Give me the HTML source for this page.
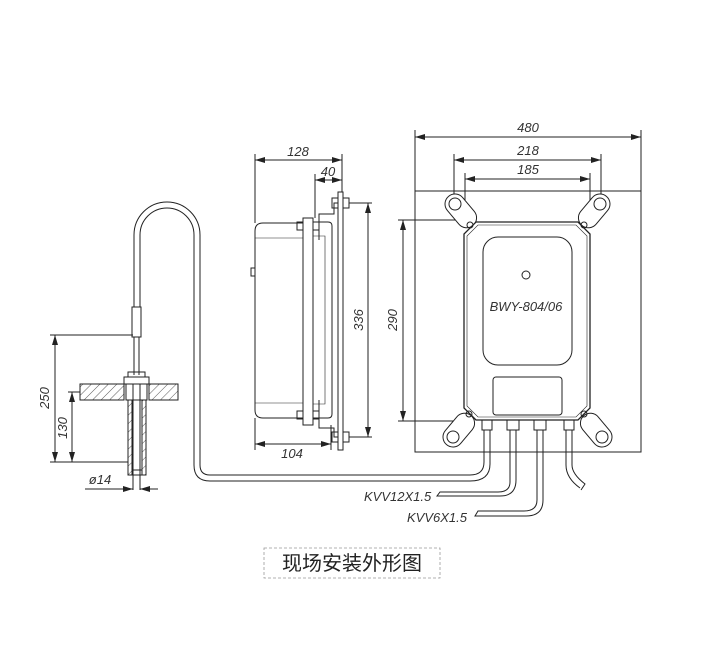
<!DOCTYPE html>
<html><head><meta charset="utf-8"><style>
html,body{margin:0;padding:0;background:#fff;width:708px;height:657px;overflow:hidden}
svg{display:block}
text{font-family:"Liberation Sans",sans-serif;font-style:italic;fill:#333;font-size:13px}
</style></head><body>
<svg width="708" height="657" viewBox="0 0 708 657" xmlns="http://www.w3.org/2000/svg">
<defs>
<marker id="a" viewBox="0 0 10 6" refX="10" refY="3" markerWidth="10" markerHeight="6" orient="auto-start-reverse" markerUnits="userSpaceOnUse"><path d="M0,0 L10,3 L0,6z" fill="#222"/></marker>
<pattern id="h" width="6" height="6" patternUnits="userSpaceOnUse" patternTransform="rotate(45)"><line x1="0" y1="0" x2="0" y2="6" stroke="#333" stroke-width="0.8"/></pattern>
</defs>
<g fill="none" stroke="#222" stroke-width="1">
<!-- right view -->
<rect x="415" y="191" width="226" height="261"/>
<line x1="415" y1="130" x2="415" y2="191"/><line x1="641" y1="130" x2="641" y2="191"/>
<line x1="415" y1="137" x2="641" y2="137" marker-start="url(#a)" marker-end="url(#a)"/>
<line x1="454" y1="154" x2="454" y2="204"/><line x1="601" y1="154" x2="601" y2="204"/>
<line x1="454" y1="160" x2="601" y2="160" marker-start="url(#a)" marker-end="url(#a)"/>
<line x1="465" y1="173" x2="465" y2="222"/><line x1="590" y1="173" x2="590" y2="222"/>
<line x1="465" y1="179" x2="590" y2="179" marker-start="url(#a)" marker-end="url(#a)"/>
<line x1="398" y1="220" x2="464" y2="220"/><line x1="398" y1="421" x2="464" y2="421"/>
<line x1="403" y1="220" x2="403" y2="421" marker-start="url(#a)" marker-end="url(#a)"/>
<!-- ears -->
<g fill="#fff">
<rect transform="translate(455,204) rotate(50)" x="-10" y="-10" width="38" height="20" rx="10"/>
<rect transform="translate(600,204) rotate(130)" x="-10" y="-10" width="38" height="20" rx="10"/>
<rect transform="translate(453,437) rotate(-50)" x="-10" y="-10" width="38" height="20" rx="10"/>
<rect transform="translate(602,437) rotate(-130)" x="-10" y="-10" width="38" height="20" rx="10"/>
</g>
<circle cx="455" cy="204" r="6"/><circle cx="600" cy="204" r="6"/><circle cx="453" cy="437" r="6"/><circle cx="602" cy="437" r="6"/>
<path d="M476,222 L578,222 L590,234 L590,408 L578,420 L476,420 L464,408 L464,234z" fill="#fff" stroke-width="1.3"/>
<path d="M478,225 L576,225 L587,236 L587,406 L576,417 L478,417 L467,406 L467,236z" stroke-width="0.6"/>
<circle cx="470" cy="225" r="3"/><circle cx="584" cy="225" r="3"/><circle cx="469" cy="414" r="3"/><circle cx="584" cy="414" r="3"/>
<rect x="483" y="237" width="89" height="128" rx="15"/>
<circle cx="526" cy="275" r="4"/>
<rect x="493" y="377" width="69" height="38" rx="3"/>
<!-- glands -->
<rect x="482" y="420" width="10" height="10"/><rect x="507" y="420" width="12" height="10"/><rect x="534" y="420" width="12" height="10"/><rect x="564" y="420" width="10" height="10"/>
<!-- cables -->
<path d="M484,430 L484,462 Q484,475 470,475 L210,475 Q200,475 200,465 L200,235 A33,33 0 0 0 134,235 L134,307"/>
<path d="M490,430 L490,464 Q490,481 470,481 L210,481 Q194,481 194,465 L194,235 A27,27 0 0 0 140,235 L140,307"/>
<path d="M510,430 L510,482 Q510,492 498,492 L440,492 L437,496 L500,496 Q516,496 516,480 L516,430"/>
<path d="M537,430 L537,500 Q537,511 524,511 L478,511 L475,516 L526,516 Q543,516 543,500 L543,430"/>
<path d="M566,430 L566,465 Q566,478 580,488 M572,430 L572,465 Q572,474 585,484 L581,490"/>
<!-- side view -->
<path d="M303,223 L263,223 Q255,223 255,231 L255,410 Q255,418 263,418 L303,418z"/>
<line x1="255" y1="238" x2="303" y2="238" stroke-width="0.6"/><line x1="255" y1="403" x2="303" y2="403" stroke-width="0.6"/>
<rect x="251" y="268" width="4" height="8"/>
<rect x="303" y="218" width="10" height="207"/>
<path d="M313,222 L328,222 Q332,222 332,226 L332,414 Q332,418 328,418 L313,418"/>
<path d="M313,236 L325,236 L325,404 L313,404" stroke-width="0.6"/>
<rect x="338" y="192" width="5" height="258"/>
<path d="M319,240 L319,214 L334,214 L334,203 L338,203"/>
<path d="M319,400 L319,428 L334,428 L334,437 L338,437"/>
<rect x="332" y="198" width="6" height="10"/><rect x="343" y="198" width="6" height="10"/>
<rect x="332" y="432" width="6" height="10"/><rect x="343" y="432" width="6" height="10"/>
<rect x="297" y="222" width="6" height="8"/><rect x="313" y="222" width="6" height="8"/>
<rect x="297" y="411" width="6" height="8"/><rect x="313" y="411" width="6" height="8"/>
<line x1="255" y1="154" x2="255" y2="223"/><line x1="342" y1="154" x2="342" y2="192"/>
<line x1="255" y1="160" x2="342" y2="160" marker-start="url(#a)" marker-end="url(#a)"/>
<line x1="315" y1="174" x2="315" y2="218"/>
<line x1="315" y1="180" x2="342" y2="180" marker-start="url(#a)" marker-end="url(#a)"/>
<line x1="349" y1="203" x2="372" y2="203"/><line x1="349" y1="437" x2="372" y2="437"/>
<line x1="368" y1="203" x2="368" y2="437" marker-start="url(#a)" marker-end="url(#a)"/>
<line x1="255" y1="418" x2="255" y2="450"/><line x1="331" y1="425" x2="331" y2="450"/>
<line x1="255" y1="444" x2="331" y2="444" marker-start="url(#a)" marker-end="url(#a)"/>
<!-- sensor -->
<rect x="132" y="307" width="9" height="30"/>
<line x1="134" y1="337" x2="134" y2="375"/><line x1="139" y1="337" x2="139" y2="375"/>
<rect x="128" y="372" width="17" height="5"/><rect x="124" y="377" width="25" height="7"/>
<rect x="80" y="384" width="44" height="16" fill="url(#h)"/><rect x="149" y="384" width="29" height="16" fill="url(#h)"/>
<rect x="126" y="384" width="21" height="16"/>
<rect x="128" y="400" width="4" height="75" fill="url(#h)"/><rect x="142" y="400" width="4" height="75" fill="url(#h)"/>
<path d="M128,400 L128,475 L146,475 L146,400"/>
<line x1="132" y1="470" x2="142" y2="470"/>
<line x1="133" y1="384" x2="133" y2="490"/><line x1="140" y1="384" x2="140" y2="490"/>
<line x1="50" y1="335" x2="133" y2="335"/><line x1="50" y1="462" x2="128" y2="462"/>
<line x1="55" y1="335" x2="55" y2="462" marker-start="url(#a)" marker-end="url(#a)"/>
<line x1="68" y1="392" x2="80" y2="392"/>
<line x1="72" y1="392" x2="72" y2="462" marker-start="url(#a)" marker-end="url(#a)"/>
<line x1="85" y1="489" x2="133" y2="489" marker-end="url(#a)"/>
<line x1="158" y1="489" x2="140" y2="489" marker-end="url(#a)"/>
<rect x="264" y="548" width="176" height="30" stroke="#999" stroke-dasharray="3,2" stroke-width="0.8"/>
</g>
<text x="528" y="132" text-anchor="middle">480</text>
<text x="528" y="155" text-anchor="middle">218</text>
<text x="528" y="174" text-anchor="middle">185</text>
<text x="526" y="311" text-anchor="middle">BWY-804/06</text>
<text transform="translate(397,320) rotate(-90)" text-anchor="middle">290</text>
<text x="298" y="156" text-anchor="middle">128</text>
<text x="328" y="176" text-anchor="middle">40</text>
<text transform="translate(363,320) rotate(-90)" text-anchor="middle">336</text>
<text x="292" y="458" text-anchor="middle">104</text>
<text transform="translate(49,398) rotate(-90)" text-anchor="middle">250</text>
<text transform="translate(67,428) rotate(-90)" text-anchor="middle">130</text>
<text x="100" y="484" text-anchor="middle">ø14</text>
<text x="364" y="501">KVV12X1.5</text>
<text x="407" y="522">KVV6X1.5</text>
<text x="352" y="570" text-anchor="middle" style="font-style:normal;font-size:20px;font-family:'Liberation Sans','Noto Sans CJK SC',sans-serif;fill:#222">现场安装外形图</text>
</svg>
</body></html>
